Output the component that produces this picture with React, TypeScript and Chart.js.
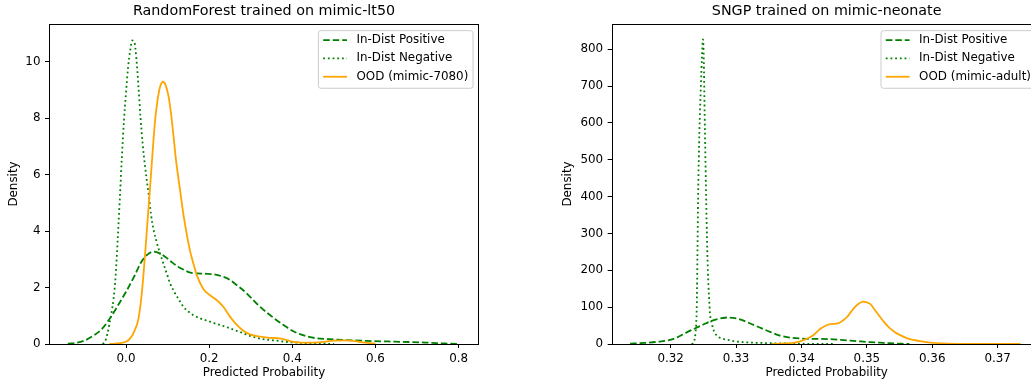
import React, { useEffect, useRef } from 'react';
import { Chart, registerables } from 'chart.js';

Chart.register(...registerables);

const FONT = '"DejaVu Sans", "Liberation Sans", sans-serif';
const FS = 11.9;
const TITLE_FS = 14.3;

// ---------- Left panel: RandomForest trained on mimic-lt50 ----------
const RF_TITLE = 'RandomForest trained on mimic-lt50';
const RF_X_TICKS = [0.0, 0.2, 0.4, 0.6, 0.8];
const RF_Y_TICKS = [0, 2, 4, 6, 8, 10];

const RF_POS_X = [-0.14, -0.12, -0.10, -0.08, -0.06, -0.04, -0.02, 0.0, 0.02, 0.035, 0.05, 0.065, 0.08, 0.095, 0.11, 0.125, 0.14, 0.155, 0.17, 0.19, 0.21, 0.23, 0.25, 0.265, 0.28, 0.30, 0.32, 0.34, 0.36, 0.38, 0.40, 0.42, 0.44, 0.46, 0.49, 0.53, 0.58, 0.63, 0.68, 0.72, 0.76, 0.80];
const RF_POS_Y = [0.01, 0.04, 0.12, 0.28, 0.5, 0.88, 1.35, 1.85, 2.4, 2.86, 3.15, 3.27, 3.22, 3.08, 2.9, 2.74, 2.62, 2.53, 2.5, 2.49, 2.47, 2.4, 2.27, 2.1, 1.93, 1.65, 1.35, 1.1, 0.87, 0.66, 0.47, 0.34, 0.25, 0.2, 0.17, 0.14, 0.11, 0.09, 0.07, 0.05, 0.025, 0.0];

const RF_NEG_X = [-0.056, -0.05, -0.045, -0.04, -0.035, -0.03, -0.025, -0.02, -0.015, -0.01, -0.005, 0.0, 0.005, 0.01, 0.015, 0.02, 0.025, 0.03, 0.035, 0.04, 0.045, 0.05, 0.055, 0.06, 0.067, 0.074, 0.082, 0.09, 0.098, 0.106, 0.114, 0.126, 0.138, 0.15, 0.162, 0.18, 0.2, 0.22, 0.24, 0.26, 0.275, 0.29, 0.30, 0.32, 0.34, 0.36, 0.39, 0.42, 0.46, 0.5];
const RF_NEG_Y = [0, 0.1, 0.35, 0.7, 1.1, 1.6, 2.4, 3.7, 5.1, 6.6, 7.9, 8.9, 9.8, 10.4, 10.75, 10.7, 10.1, 9.1, 8.0, 7.1, 6.4, 5.8, 5.25, 4.6, 4.0, 3.6, 3.2, 2.85, 2.5, 2.15, 1.9, 1.6, 1.32, 1.15, 1.02, 0.9, 0.8, 0.7, 0.61, 0.5, 0.42, 0.33, 0.28, 0.2, 0.15, 0.12, 0.07, 0.04, 0.02, 0.0];

const RF_OOD_X = [-0.04, -0.02, 0.0, 0.01, 0.02, 0.03, 0.038, 0.046, 0.052, 0.058, 0.064, 0.07, 0.076, 0.082, 0.089, 0.095, 0.102, 0.108, 0.114, 0.12, 0.13, 0.138, 0.146, 0.154, 0.162, 0.17, 0.186, 0.2, 0.218, 0.235, 0.25, 0.265, 0.282, 0.3, 0.322, 0.345, 0.37, 0.385, 0.4, 0.42, 0.44, 0.47, 0.5, 0.53, 0.56, 0.58, 0.6];
const RF_OOD_Y = [0, 0.02, 0.08, 0.2, 0.45, 0.9, 1.8, 3.2, 4.4, 5.57, 6.8, 7.93, 8.65, 9.11, 9.29, 9.18, 8.8, 8.2, 7.4, 6.55, 5.45, 4.6, 3.9, 3.3, 2.85, 2.45, 1.95, 1.75, 1.56, 1.3, 0.97, 0.7, 0.47, 0.33, 0.26, 0.22, 0.2, 0.15, 0.08, 0.05, 0.05, 0.07, 0.12, 0.13, 0.08, 0.04, 0.01];

// ---------- Right panel: SNGP trained on mimic-neonate ----------
const SN_TITLE = 'SNGP trained on mimic-neonate';
const SN_X_TICKS = [0.32, 0.33, 0.34, 0.35, 0.36, 0.37];
const SN_Y_TICKS = [0, 100, 200, 300, 400, 500, 600, 700, 800];

const SN_POS_X = [0.3138, 0.316, 0.318, 0.3199, 0.321, 0.3224, 0.3237, 0.325, 0.326, 0.327, 0.3278, 0.3286, 0.3295, 0.3306, 0.332, 0.3337, 0.3352, 0.3367, 0.338, 0.3398, 0.3415, 0.343, 0.3445, 0.346, 0.3475, 0.349, 0.3505, 0.352, 0.3535, 0.355, 0.3565];
const SN_POS_Y = [1, 3, 6, 11, 18, 31, 42, 53, 61, 67, 70, 72, 71, 67, 57, 44, 33, 23, 18, 15, 14, 14, 13, 11, 9, 7, 5, 3.5, 2, 1, 0];

const SN_NEG_X = [0.3232, 0.3234, 0.3236, 0.3238, 0.3239, 0.324, 0.3241, 0.3242, 0.3243, 0.3244, 0.3245, 0.3246, 0.3247, 0.3248, 0.3249, 0.32495, 0.325, 0.3251, 0.3252, 0.3253, 0.3254, 0.3255, 0.3256, 0.3257, 0.3258, 0.3259, 0.326, 0.3263, 0.3266, 0.327, 0.3278, 0.3286, 0.33, 0.332, 0.3337, 0.337, 0.341, 0.345];
const SN_NEG_Y = [0, 2, 8, 30, 52, 110, 250, 400, 500, 580, 640, 690, 740, 785, 822, 827, 815, 740, 620, 520, 420, 330, 255, 195, 150, 118, 85, 55, 36, 24, 15, 12, 7, 4, 3, 1.5, 0.5, 0];

const SN_OOD_X = [0.3355, 0.3375, 0.339, 0.3405, 0.3418, 0.3428, 0.3436, 0.3444, 0.3456, 0.3463, 0.347, 0.3476, 0.3482, 0.3488, 0.3494, 0.35, 0.3505, 0.3512, 0.352, 0.3527, 0.3535, 0.3543, 0.3551, 0.3561, 0.3571, 0.3584, 0.3597, 0.3615, 0.364, 0.368, 0.3735];
const SN_OOD_Y = [0, 1.5, 4, 12, 24, 40, 49, 54, 56, 63, 74, 88, 101, 110, 115, 113, 109, 93, 74, 58, 43, 32, 24, 16, 11, 7, 4, 1.8, 0.6, 0.15, 0];

const LABEL_POS = 'In-Dist Positive';
const LABEL_NEG = 'In-Dist Negative';
const RF_LABEL_OOD = 'OOD (mimic-7080)';
const SN_LABEL_OOD = 'OOD (mimic-adult)';

const GREEN = '#008000';
const ORANGE = '#ffa500';
const LW = 1.8;
const DASHED = [6.6, 2.9];
const DOTTED = [1.8, 2.9];

const pts = (xs: number[], ys: number[]) => xs.map((x, i) => ({ x, y: ys[i] }));

const framePlugin = {
  id: 'mplFrame',
  afterDatasetsDraw(chart: any) {
    const { ctx, chartArea: a } = chart;
    ctx.save();
    ctx.strokeStyle = '#000';
    ctx.lineWidth = 1;
    ctx.setLineDash([]);
    const l = Math.round(a.left) + 0.5;
    const t = Math.round(a.top) + 0.5;
    const r = Math.round(a.right) - 0.5;
    const b = Math.round(a.bottom) + 0.5;
    ctx.strokeRect(l, t, r - l, b - t);
    ctx.restore();
  },
};

const legendPlugin = {
  id: 'mplLegend',
  afterDraw(chart: any) {
    const { ctx, chartArea: a } = chart;
    const ds = chart.data.datasets;
    ctx.save();
    ctx.font = `${FS}px ${FONT}`;
    const tw = Math.max(...ds.map((d: any) => ctx.measureText(d.label).width));
    const pad = 0.4 * FS;
    const hl = 2 * FS;
    const htp = 0.8 * FS;
    const w = pad + hl + htp + tw + pad;
    const h = 57.6;
    const right = a.right - 0.5 * FS;
    const top = a.top + 0.5 * FS + 0.7;
    const left = right - w;
    ctx.beginPath();
    (ctx as any).roundRect(left, top, w, h, 2.5);
    ctx.fillStyle = 'rgba(255,255,255,0.8)';
    ctx.fill();
    ctx.strokeStyle = '#cccccc';
    ctx.lineWidth = 1;
    ctx.stroke();
    ds.forEach((d: any, i: number) => {
      const cy = top + 9.4 + i * 18.35;
      ctx.beginPath();
      ctx.setLineDash(d.borderDash || []);
      ctx.lineDashOffset = 0;
      ctx.strokeStyle = d.borderColor;
      ctx.lineWidth = d.borderWidth;
      ctx.lineCap = 'butt';
      ctx.moveTo(left + pad, cy);
      ctx.lineTo(left + pad + hl, cy);
      ctx.stroke();
      ctx.setLineDash([]);
      ctx.fillStyle = '#000';
      ctx.textBaseline = 'middle';
      ctx.textAlign = 'left';
      ctx.fillText(d.label, left + pad + hl + htp, cy);
    });
    ctx.restore();
  },
};

interface PanelSpec {
  title: string;
  xMin: number;
  xMax: number;
  yMax: number;
  xTicks: number[];
  yTicks: number[];
  xDecimals: number;
  yAxisWidth: number;
  yTitlePad: number;
  rightPad: number;
  posX: number[]; posY: number[];
  negX: number[]; negY: number[];
  oodX: number[]; oodY: number[];
  oodLabel: string;
}

function makeConfig(p: PanelSpec): any {
  const tickStyle = { size: FS, family: FONT };
  return {
    type: 'line',
    data: {
      datasets: [
        {
          label: LABEL_POS,
          data: pts(p.posX, p.posY),
          borderColor: GREEN,
          borderWidth: LW,
          borderDash: DASHED,
          pointRadius: 0,
          fill: false,
          cubicInterpolationMode: 'monotone',
          order: 2,
        },
        {
          label: LABEL_NEG,
          data: pts(p.negX, p.negY),
          borderColor: GREEN,
          borderWidth: LW,
          borderDash: DOTTED,
          pointRadius: 0,
          fill: false,
          cubicInterpolationMode: 'monotone',
          order: 1,
        },
        {
          label: p.oodLabel,
          data: pts(p.oodX, p.oodY),
          borderColor: ORANGE,
          borderWidth: LW,
          pointRadius: 0,
          fill: false,
          cubicInterpolationMode: 'monotone',
          order: 0,
        },
      ],
    },
    options: {
      responsive: false,
      animation: false,
      events: [],
      layout: { padding: { left: 0, right: p.rightPad, top: 0, bottom: 0 } },
      plugins: {
        legend: { display: false },
        tooltip: { enabled: false },
        title: {
          display: true,
          text: p.title,
          fullSize: false,
          color: '#000',
          font: { size: TITLE_FS, family: FONT, weight: 'normal' },
          padding: { top: 3, bottom: 3.84 },
        },
      },
      scales: {
        x: {
          type: 'linear',
          min: p.xMin,
          max: p.xMax,
          afterBuildTicks: (s: any) => {
            s.ticks = p.xTicks.map((v) => ({ value: v }));
          },
          afterFit: (s: any) => {
            s.height = 39;
          },
          ticks: {
            color: '#000',
            font: tickStyle,
            padding: 3.4,
            maxRotation: 0,
            autoSkip: false,
            callback: (v: number) => Number(v).toFixed(p.xDecimals),
          },
          grid: {
            display: true,
            drawOnChartArea: false,
            drawTicks: true,
            tickLength: 4,
            tickColor: '#000',
            tickWidth: 1,
            color: '#000',
          },
          border: { display: false },
          title: {
            display: true,
            text: 'Predicted Probability',
            color: '#000',
            font: tickStyle,
            padding: { top: 0, bottom: 3 },
          },
        },
        y: {
          type: 'linear',
          min: 0,
          max: p.yMax,
          afterBuildTicks: (s: any) => {
            s.ticks = p.yTicks.map((v) => ({ value: v }));
          },
          afterFit: (s: any) => {
            s.width = p.yAxisWidth;
          },
          ticks: {
            color: '#000',
            font: tickStyle,
            padding: 4.5,
            autoSkip: false,
            callback: (v: number) => String(v),
          },
          grid: {
            display: true,
            drawOnChartArea: false,
            drawTicks: true,
            tickLength: 4,
            tickColor: '#000',
            tickWidth: 1,
            color: '#000',
          },
          border: { display: false },
          title: {
            display: true,
            text: 'Density',
            color: '#000',
            font: tickStyle,
            padding: { top: p.yTitlePad, bottom: 0 },
          },
        },
      },
    },
    plugins: [framePlugin, legendPlugin],
  };
}

const LEFT_SPEC: PanelSpec = {
  title: RF_TITLE,
  xMin: -0.1852,
  xMax: 0.849,
  yMax: 11.335,
  xTicks: RF_X_TICKS,
  yTicks: RF_Y_TICKS,
  xDecimals: 1,
  yAxisWidth: 49,
  yTitlePad: 7,
  rightPad: 41,
  posX: RF_POS_X, posY: RF_POS_Y,
  negX: RF_NEG_X, negY: RF_NEG_Y,
  oodX: RF_OOD_X, oodY: RF_OOD_Y,
  oodLabel: RF_LABEL_OOD,
};

const RIGHT_SPEC: PanelSpec = {
  title: SN_TITLE,
  xMin: 0.31098,
  xMax: 0.37673,
  yMax: 868.7,
  xTicks: SN_X_TICKS,
  yTicks: SN_Y_TICKS,
  xDecimals: 2,
  yAxisWidth: 91.67,
  yTitlePad: 41,
  rightPad: 18.33,
  posX: SN_POS_X, posY: SN_POS_Y,
  negX: SN_NEG_X, negY: SN_NEG_Y,
  oodX: SN_OOD_X, oodY: SN_OOD_Y,
  oodLabel: SN_LABEL_OOD,
};

function Panel({ spec, left, width }: { spec: PanelSpec; left: number; width: number }) {
  const ref = useRef<HTMLCanvasElement | null>(null);
  useEffect(() => {
    if (!ref.current) return;
    const chart = new Chart(ref.current, makeConfig(spec));
    return () => chart.destroy();
  }, [spec]);
  return (
    <canvas
      ref={ref}
      width={width}
      height={383}
      style={{ position: 'absolute', left, top: 0, width, height: 383, display: 'block' }}
    />
  );
}

export default function App() {
  return (
    <div
      style={{
        position: 'fixed',
        left: 0,
        top: 0,
        width: 1031,
        height: 383,
        overflow: 'hidden',
        background: '#fff',
      }}
    >
      <Panel spec={LEFT_SPEC} left={0} width={520} />
      <Panel spec={RIGHT_SPEC} left={520} width={540} />
    </div>
  );
}
